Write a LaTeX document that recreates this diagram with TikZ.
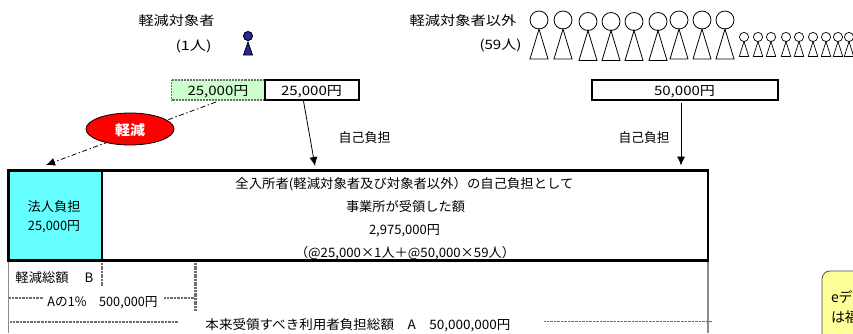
\documentclass[tikz,border=0pt]{standalone}
\usepackage{graphicx}
\usepackage{fontspec}
\setmainfont{Noto Sans CJK JP}
\usetikzlibrary{arrows.meta,shapes.geometric}
\newlength\fitlen
\newcommand\fitw[2]{\settowidth\fitlen{#2}\pgfmathsetmacro\fitr{#1*1.00375/\fitlen}\scalebox{\fitr}[1]{#2}}
\definecolor{navy}{RGB}{40,40,150}
\definecolor{lgreen}{RGB}{204,255,204}
\definecolor{lcyan}{RGB}{102,255,255}
\definecolor{lyellow}{RGB}{255,255,153}
\definecolor{gr}{RGB}{110,110,110}
\tikzset{
  lbl/.style={inner sep=0pt,outer sep=0pt,font=\fontsize{13}{13}\selectfont,text=black,text height=10.5bp,text depth=1.5bp,anchor=center},
  amount/.style={draw=black,line width=1.7pt,fill=white,inner sep=0pt,minimum height=20bp},
  conn/.style={line width=0.8pt,-{Latex[length=9bp,width=8bp]}},
  hair/.style={gr,line width=1.1pt,dash pattern=on 1pt off 0.4pt},
  rule/.style={gr!80,line width=2pt},
  thickdot/.style={gr,line width=2.2pt,dash pattern=on 1.2pt off 0.4pt},
  frame/.style={draw=black,line width=2.7pt}
}
\begin{document}
\begin{tikzpicture}[x=1bp,y=-1bp]
\useasboundingbox (0,0) rectangle (853,333);
\clip (0,0) rectangle (853,333);
% headings
\node[lbl] (h1) at (176.5,21) {\fitw{76}{軽減対象者}};
\node[lbl] (n1) at (193.5,46) {\fitw{36}{(1人)}};
\node[lbl] (h2) at (463,21) {\fitw{107}{軽減対象者以外}};
\node[lbl] (n2) at (500.5,45) {\fitw{42}{(59人)}};
% persons
\draw[black,fill=navy,line width=0.8pt] (243.5,55) -- (248,42) -- (252.5,55) -- cycle;
\draw[black,fill=navy,line width=0.8pt] (248,36) circle (4.6);
\foreach \x/\y in {539/20,563/20,588/21.5,611/21.5,634/21.5,658/21.5,679/20,702/20,725/20}{
  \draw[line width=0.8pt] (\x-9,\y+39) -- (\x,\y+9) -- (\x+9,\y+39) -- cycle;
  \draw[line width=0.8pt] (\x,\y) circle (9);
}
\foreach \x in {744,758,771,786,799,813,826,838,849}{
  \draw[line width=0.7pt] (\x-4.7,56.5) -- (\x,41.5) -- (\x+4.7,56.5) -- cycle;
  \draw[line width=0.7pt] (\x,37) circle (4.6);
}
% amount boxes
\node[draw=gr,dash pattern=on 1pt off 0.5pt,line width=1.2pt,fill=lgreen,minimum width=93bp,minimum height=20bp,inner sep=0pt] (g) at (218,90) {};
\node[lbl] (gt) at (218,91) {\fitw{61}{25,000円}};
\node[amount,minimum width=94bp] (w1) at (311.7,90) {};
\node[lbl] (w1t) at (311.5,91) {\fitw{61}{25,000円}};
\node[amount,minimum width=186bp] (w2) at (685,90) {};
\node[lbl] (w2t) at (684.5,91) {\fitw{61}{50,000円}};
% connector start/end points
\coordinate (d1) at (216,102);
\coordinate (d2) at (46,165);
\coordinate (a1) at (303.5,101);
\coordinate (a2) at (315,166);
\coordinate (b1) at (681,103);
\coordinate (b2) at (681,165.5);
\draw[line width=0.8pt,dash pattern=on 5pt off 2.5pt on 1.5pt off 2.5pt,-{Latex[length=9bp,width=8bp]}] (d1) -- (d2);
\draw[conn] (a1) -- (a2);
\draw[conn] (b1) -- (b2);
\node[draw=black,line width=0.8pt,fill=red,ellipse,minimum width=88bp,minimum height=32bp,inner sep=0pt] (el) at (130,129) {};
\node[lbl,text=white,font=\fontsize{14}{14}\selectfont\bfseries] (elt) at (130,130.5) {\fitw{30}{軽減}};
\node[lbl] (s1) at (364.5,138) {\fitw{52}{自己負担}};
\node[lbl] (s2) at (644,138) {\fitw{51}{自己負担}};
% lower rules
\draw[rule] (8.5,261) -- (8.5,333);
\draw[rule] (707.5,261) -- (707.5,333);
\draw[thickdot] (102,261) -- (102,286);
\draw[thickdot] (195.5,261) -- (195.5,311);
\draw[hair] (9,298) -- (43,298);
\draw[hair] (164,298) -- (194,298);
\draw[hair] (10,322) -- (178,322);
\draw[hair] (544,321.5) -- (712,321.5);
% main frame
\node[frame,fill=lcyan,minimum width=93.5bp,minimum height=90bp,inner sep=0pt] (c) at (55.2,215.5) {};
\node[frame,minimum width=606bp,minimum height=90bp,inner sep=0pt] (m) at (405,215.5) {};
\node[lbl] (c1) at (54,207) {\fitw{53}{法人負担}};
\node[lbl] (c2) at (54,226) {\fitw{52}{25,000円}};
\node[lbl] (m1) at (404.5,184) {\fitw{338}{全入所者(軽減対象者及び対象者以外）の自己負担として}};
\node[lbl] (m2) at (405.5,207) {\fitw{119}{事業所が受領した額}};
\node[lbl] (m3) at (404.5,230) {\fitw{71}{2,975,000円}};
\node[lbl] (m4) at (405,253) {\fitw{220}{（@25,000×1人＋@50,000×59人）}};
\node[lbl] (l1) at (54.5,278) {\fitw{78}{軽減総額\hspace{1.2em}B}};
\node[lbl] (l2) at (102.5,302) {\fitw{110}{Aの1\%\hspace{1em}500,000円}};
\node[lbl] (l3) at (358,325) {\fitw{305}{本来受領すべき利用者負担総額\hspace{1em}A\hspace{1em}50,000,000円}};
% callout
\draw[draw=black!70,line width=0.8pt,fill=lyellow,rounded corners=8bp] (822,345) -- (822,271) -- (870,271) -- (870,345) -- cycle;
\node[lbl,anchor=west,font=\fontsize{14}{14}\selectfont] (e1) at (831,298) {eデ};
\node[lbl,anchor=west,font=\fontsize{14}{14}\selectfont] (e2) at (831,318) {は福};
\end{tikzpicture}
\end{document}
